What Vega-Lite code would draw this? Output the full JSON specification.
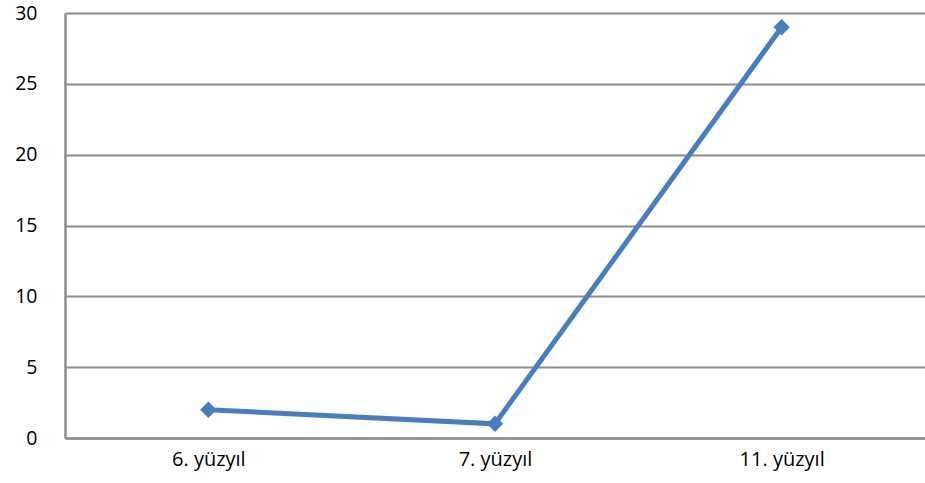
{
  "$schema": "https://vega.github.io/schema/vega-lite/v6.json",
  "autosize": "none",
  "width": 860,
  "height": 425,
  "padding": {"left": 65, "top": 13, "right": 0, "bottom": 45},
  "background": "white",
  "config": {"view": {"stroke": null}},
  "data": {"values": [
    {"category": "6. yüzyıl", "value": 2},
    {"category": "7. yüzyıl", "value": 1},
    {"category": "11. yüzyıl", "value": 29}
  ]},
  "mark": {"type": "line", "color": "#4A7EBB", "strokeWidth": 5, "point": {"shape": "diamond", "size": 270, "filled": true, "color": "#4A7EBB"}},
  "encoding": {
    "x": {"field": "category", "type": "nominal", "sort": null,
      "scale": {"paddingInner": 0, "paddingOuter": 0},
      "axis": {"title": null, "labelAngle": 0, "ticks": false, "labelPadding": 11, "labelFont": "Open Sans", "labelFontSize": 20, "labelColor": "#000000", "domainColor": "#8c8c8c", "domainWidth": 2.5, "grid": false}},
    "y": {"field": "value", "type": "quantitative",
      "scale": {"domain": [0, 30], "nice": false},
      "axis": {"title": null, "values": [0, 5, 10, 15, 20, 25, 30], "ticks": false, "labelPadding": 28, "labelFont": "Open Sans", "labelFontSize": 19.5, "labelColor": "#000000", "domainColor": "#8c8c8c", "domainWidth": 2.5, "gridColor": "#8c8c8c", "gridWidth": 2, "gridOpacity": 1}}
  }
}
